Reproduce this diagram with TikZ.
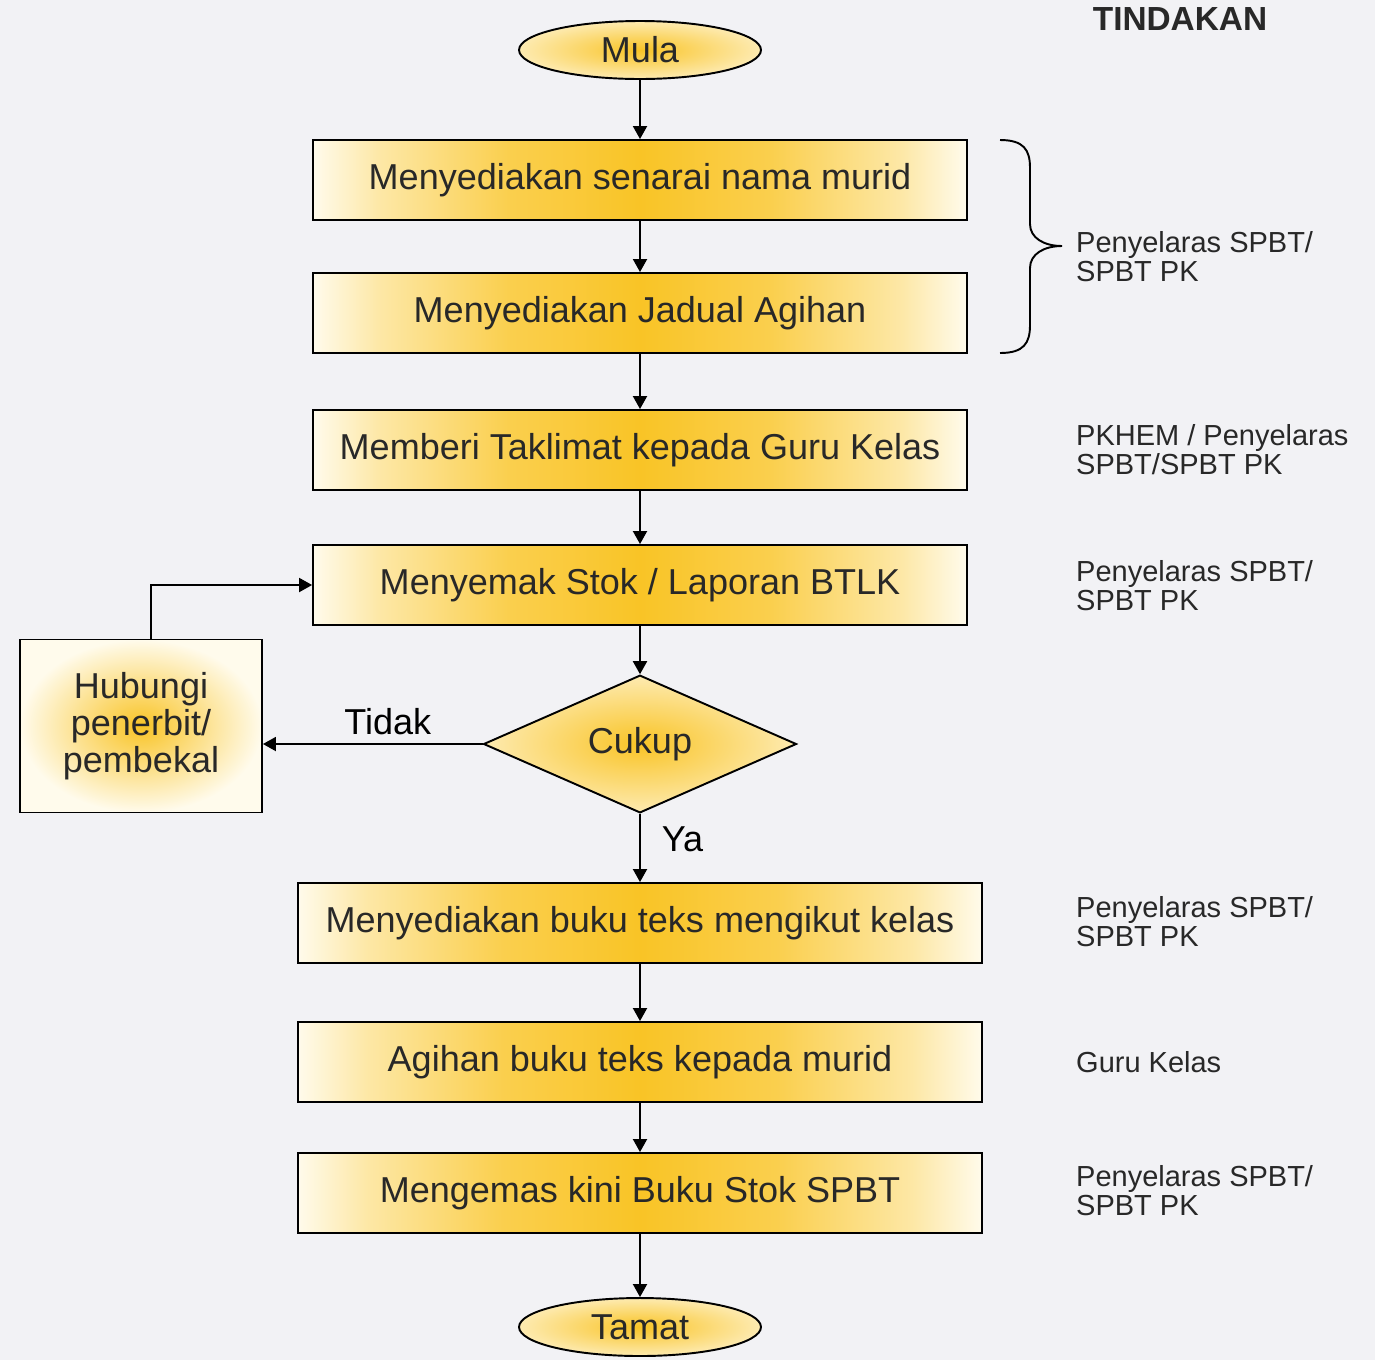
\documentclass[tikz,border=0pt]{standalone}
\usepackage{fontspec}
\setmainfont{Liberation Sans}
\usetikzlibrary{shapes.geometric,arrows.meta}

\definecolor{kuning}{RGB}{249,196,38}
\definecolor{pucat}{RGB}{255,251,236}
\definecolor{latar}{RGB}{242,242,245}
\definecolor{tulisan}{RGB}{40,40,40}

\pgfdeclarehorizontalshading{kotakshade}{100bp}{color(0bp)=(pucat); color(25bp)=(pucat);
  color(30bp)=(kuning!35!pucat); color(40bp)=(kuning!80!pucat); color(50bp)=(kuning);
  color(60bp)=(kuning!80!pucat); color(70bp)=(kuning!35!pucat); color(75bp)=(pucat); color(100bp)=(pucat)}

\begin{document}
\begin{tikzpicture}[x=0.02cm,y=-0.02cm,
  font=\fontsize{20.5}{21}\selectfont,
  kotak/.style={draw,line width=1.1pt,minimum height=1.6cm,text=tulisan,
    shade,shading=kotakshade},
  bulat/.style={draw,line width=1.1pt,ellipse,inner sep=0pt,
    minimum width=4.84cm,minimum height=1.16cm,text=tulisan,
    inner color=kuning,outer color=kuning!30!pucat},
  anak/.style={-{Triangle[length=0.26cm,width=0.28cm]},line width=1.1pt},
  tindak/.style={anchor=west,align=left,text=tulisan,
    font=\fontsize{16.5}{16.5}\selectfont}]

% Background
\fill[latar] (0,0) rectangle (1375,1360);
\useasboundingbox (0,0) rectangle (1375,1360);

% Header
\node[font=\bfseries\fontsize{19}{19}\selectfont,text=tulisan] (tajuk) at (1180,19) {TINDAKAN};

% Main flow
\node[bulat] (mula) at (640,50) {Mula};
\node[kotak,minimum width=13.08cm] (senarai) at (640,180) {Menyediakan senarai nama murid};
\node[kotak,minimum width=13.08cm] (jadual) at (640,313) {Menyediakan Jadual Agihan};
\node[kotak,minimum width=13.08cm] (taklimat) at (640,450) {Memberi Taklimat kepada Guru Kelas};
\node[kotak,minimum width=13.08cm] (semak) at (640,585) {Menyemak Stok / Laporan BTLK};
\node[diamond,draw,line width=1.1pt,inner sep=0pt,minimum width=6.26cm,
  minimum height=2.56cm,text=tulisan,inner color=kuning,outer color=kuning!30!pucat] (cukup) at (640,744) {Cukup};
\node[kotak,minimum width=13.7cm] (sedia) at (640,923) {Menyediakan buku teks mengikut kelas};
\node[kotak,minimum width=13.7cm] (agih) at (640,1062) {Agihan buku teks kepada murid};
\node[kotak,minimum width=13.7cm] (kemas) at (640,1193) {Mengemas kini Buku Stok SPBT};
\node[bulat] (tamat) at (640,1327) {Tamat};

% Side box
\node[draw,line width=1.1pt,minimum width=4.84cm,minimum height=3.46cm,align=center,
  text=tulisan,inner color=kuning,outer color=pucat] (hubungi) at (141,726) {Hubungi\\penerbit/\\pembekal};

% Arrows
\draw[anak] (mula) -- (senarai);
\draw[anak] (senarai) -- (jadual);
\draw[anak] (jadual) -- (taklimat);
\draw[anak] (taklimat) -- (semak);
\draw[anak] (semak) -- (cukup);
\draw[anak] (cukup) -- node[pos=0.38,right,xshift=0.3cm] (ya) {Ya} (sedia);
\draw[anak] (sedia) -- (agih);
\draw[anak] (agih) -- (kemas);
\draw[anak] (kemas) -- (tamat);
\draw[anak] (cukup.west) -- node[midway,above,xshift=0.3cm,yshift=0.05cm] (tidak) {Tidak} (cukup.west -| hubungi.east);
\draw[anak] ([xshift=0.2cm]hubungi.north) |- (semak.west);

% Brace and actions
\draw[line width=1.1pt] (1000,140) .. controls (1024,140) and (1030,150) .. (1030,168)
  -- (1030,224) .. controls (1030,238) and (1044,246) .. (1062,246)
  .. controls (1044,246) and (1030,254) .. (1030,268)
  -- (1030,325) .. controls (1030,343) and (1024,353) .. (1000,353);
\node[tindak] (t1) at (1070,257) {Penyelaras SPBT/\\SPBT PK};
\node[tindak] (t2) at (1070,450) {PKHEM / Penyelaras\\SPBT/SPBT PK};
\node[tindak] (t3) at (1070,586) {Penyelaras SPBT/\\SPBT PK};
\node[tindak] (t4) at (1070,922) {Penyelaras SPBT/\\SPBT PK};
\node[tindak] (t5) at (1070,1062) {Guru Kelas};
\node[tindak] (t6) at (1070,1191) {Penyelaras SPBT/\\SPBT PK};

\end{tikzpicture}
\end{document}
